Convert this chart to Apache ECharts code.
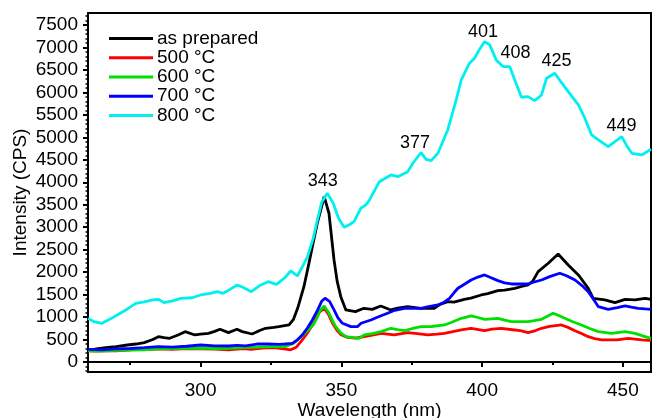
<!DOCTYPE html>
<html>
<head>
<meta charset="utf-8">
<script src="https://cdn.jsdelivr.net/npm/echarts@6/dist/echarts.min.js"></script>
<style>
html,body{margin:0;padding:0;background:#fff;}
#chart{width:653px;height:418px;}
</style>
</head>
<body>
<div id="chart"></div>
<script>
// ---- data (wavelength nm, intensity CPS) ----
var seriesNames = ['as prepared', '500 °C', '600 °C', '700 °C', '800 °C'];

var asPrepared = [[260,260],[263,290],[267,327],[270,340],[274,378],[277,400],[280,430],[283,500],[285,564],[287,540],[289,527],[292,600],[294.5,675],[298,601],[300,620],[302.8,638],[305,680],[306.9,727],[309.9,653],[312.9,727],[314.8,675],[318.3,623],[321,700],[323.1,750],[326,770],[327.8,786],[331.4,824],[333,950],[334.5,1200],[336.7,1676],[338.5,2200],[339.7,2567],[341.5,3100],[342.7,3384],[343.9,3680],[345.6,3310],[347.4,2270],[348.5,1800],[349.8,1454],[351.6,1158],[355,1120],[358,1195],[361,1170],[364,1247],[367.6,1158],[370,1200],[373.6,1231],[378.3,1195],[383,1195],[385,1280],[387.8,1343],[390,1330],[393.7,1395],[396,1420],[399.7,1491],[402,1520],[405.6,1587],[408,1600],[411.6,1640],[414,1680],[416.3,1714],[418,1800],[419.9,2010],[423.5,2197],[427,2404],[430.6,2159],[434.2,1937],[437.7,1640],[439.5,1418],[441.5,1400],[443.6,1380],[447.2,1320],[450.8,1395],[454.3,1380],[457.9,1418],[460,1395]];

var t500 = [[260,250],[263,240],[267,255],[270,250],[275,270],[278,300],[282,280],[285,290],[290,280],[295,300],[300,290],[305,285],[310,270],[315,300],[318,280],[322,310],[326,320],[329,300],[332,270],[334,330],[336,480],[338,650],[340,850],[342,1100],[343.9,1195],[345.5,1050],[347,850],[348.5,700],[350,600],[352.2,549],[355,530],[358.1,564],[361,600],[364.1,638],[368.8,601],[373.6,653],[377,630],[380.7,601],[384,620],[386.6,638],[390,680],[392.6,712],[396.1,750],[400.9,697],[403.5,730],[406.8,750],[411.6,712],[414,690],[416.3,653],[419,700],[421.1,750],[424,790],[428.2,824],[430.5,770],[433,697],[435.5,630],[437.7,564],[440,520],[442.5,490],[447.8,490],[452,527],[456.7,490],[460,475]];

var t600 = [[260,250],[265,240],[270,260],[275,267],[280,270],[285,290],[290,300],[295,304],[300,310],[305,300],[310,304],[315,320],[320,330],[325,341],[330,341],[333,415],[335.5,550],[338,700],[340,824],[341.5,1000],[342.5,1150],[343.9,1247],[345.5,1100],[347,900],[348,786],[349.8,650],[351.6,564],[356.3,527],[358.1,601],[361,630],[364.1,675],[367.6,750],[370,720],[372.4,697],[375,740],[378.3,786],[382,790],[386.6,824],[389,880],[392.6,972],[396.1,1024],[398.5,990],[400.9,950],[405.6,972],[408,930],[410.4,898],[416.3,898],[418.5,920],[421.1,950],[423,1010],[425.2,1084],[427,1040],[429.4,972],[432,900],[435.3,824],[438,750],[441.3,675],[446,638],[450.8,675],[454.3,638],[457.9,564],[460,527]];

var t700 = [[260,280],[265,270],[270,290],[275,300],[280,320],[285,341],[290,330],[295,350],[300,378],[305,360],[310,356],[313,370],[316,360],[320,400],[324,400],[328,393],[330,400],[332.6,415],[334.5,500],[336.1,601],[338,760],[339.7,935],[341.5,1150],[343,1350],[344.2,1418],[345.8,1350],[347.4,1158],[348.8,980],[350.4,861],[353.4,786],[355.7,786],[357,861],[360.5,935],[363,1000],[366.4,1084],[369,1150],[372.4,1195],[378.3,1195],[381,1230],[384.3,1269],[386.5,1330],[388.4,1418],[390,1540],[391.4,1640],[394,1740],[396.1,1825],[398.5,1890],[400.9,1937],[403,1880],[405.6,1810],[408,1760],[410.4,1736],[416.3,1736],[418.5,1780],[421.1,1825],[424,1900],[427.6,1974],[430,1920],[433,1825],[435.5,1700],[437.7,1565],[439.5,1400],[441.3,1231],[444.8,1173],[448,1210],[450.8,1247],[453,1220],[455.5,1195],[458,1180],[460,1173]];

var t800 = [[260,970],[262,900],[265,860],[268,960],[271,1068],[274,1180],[277,1306],[280,1340],[283,1380],[285,1395],[287,1320],[290,1360],[293,1417],[297,1430],[300,1491],[303,1520],[306,1565],[308,1528],[310,1600],[313,1714],[315,1662],[318,1565],[321,1700],[324,1788],[327,1729],[330,1880],[332,2026],[334.4,1914],[336,2100],[338,2344],[340,2750],[341.5,3161],[343,3550],[345,3755],[347,3550],[349,3200],[351,2998],[353,3060],[354.5,3123],[356.9,3421],[358.7,3495],[360,3606],[363.5,4013],[367.6,4163],[370,4125],[373.6,4236],[375.4,4423],[378.3,4659],[380.1,4511],[381.9,4481],[384.3,4645],[387.8,5164],[390.8,5832],[392.6,6277],[395.5,6649],[397.3,6760],[399,6950],[400.9,7131],[402.7,7057],[405,6723],[407.4,6574],[409.8,6574],[411.6,6277],[414,5892],[416.3,5906],[418.7,5817],[421.1,5943],[422.9,6315],[425.8,6426],[428.2,6218],[430.6,6017],[434.2,5721],[436.5,5425],[438.9,5053],[441.3,4942],[444.8,4793],[447.2,4904],[449.6,5015],[451.5,4800],[453.2,4645],[456.7,4608],[460,4734]];

// peak annotations: text, position (nm, CPS)
var peakText = ['343', '377', '401', '408', '425', '449'];
var peakNm   = [343.4, 376.2, 400.3, 411.9, 426.4, 449.5];
var peakCps  = [4029, 4882, 7353, 6872, 6707, 5253];

// tick labels
var xTicks = [300, 350, 400, 450];
var xMinorTicks = [275, 325, 375, 425];
var yTicks = [0, 500, 1000, 1500, 2000, 2500, 3000, 3500, 4000, 4500, 5000, 5500, 6000, 6500, 7000, 7500];
var yMinorTicks = [];
for (var v = -200; v <= 7700; v += 100) { if (v % 500 !== 0) yMinorTicks.push(v); }

var colors = ['#000000', '#ff0000', '#00e000', '#0000ff', '#00f0f0'];
var allData = [asPrepared, t500, t600, t700, t800];

var FONT = 'Liberation Sans, Arial, Helvetica, sans-serif';

var chart = echarts.init(document.getElementById('chart'), null, {renderer: 'canvas'});

var series = allData.map(function (d, i) {
  var s = {
    name: seriesNames[i],
    type: 'line',
    data: d,
    showSymbol: false,
    symbol: 'none',
    smooth: false,
    xAxisIndex: 0,
    yAxisIndex: 0,
    lineStyle: {color: colors[i], width: 2.8},
    itemStyle: {color: colors[i]},
    animation: false,
    z: 2 + i
  };
  if (i === 4) {
    s.markPoint = {
      symbol: 'circle',
      symbolSize: 0,
      silent: true,
      animation: false,
      label: {show: true, position: 'inside', color: '#000', fontSize: 18, fontFamily: FONT, formatter: function (p) { return p.name; }},
      data: peakText.map(function (t, k) { return {name: t, coord: [peakNm[k], peakCps[k]]}; })
    };
  }
  return s;
});

function plain(v) { return String(v); }

chart.setOption({
  animation: false,
  backgroundColor: '#fff',
  textStyle: {fontFamily: FONT},
  grid: {left: 88, right: 2, top: 13, bottom: 46, show: true, borderColor: '#000', borderWidth: 2, backgroundColor: 'transparent', containLabel: false, outerBoundsMode: 'none'},
  legend: {
    orient: 'vertical',
    left: 104,
    top: 24,
    itemGap: 0,
    itemWidth: 44,
    itemHeight: 3,
    icon: 'rect',
    data: seriesNames,
    textStyle: {fontSize: 19, color: '#000', fontFamily: FONT, lineHeight: 19.2, padding: [0, 0, 0, -1]}
  },
  xAxis: [{
    type: 'value', min: 260, max: 460,
    name: 'Wavelength (nm)', nameLocation: 'middle', nameGap: 29, nameMoveOverlap: false,
    nameTextStyle: {fontSize: 19, color: '#000', fontFamily: FONT},
    axisLine: {show: true, lineStyle: {color: '#000', width: 2}},
    axisTick: {show: true, inside: false, length: 5, lineStyle: {color: '#000', width: 2}, customValues: xTicks},
    axisLabel: {show: true, color: '#000', fontSize: 19, fontFamily: FONT, margin: 9, customValues: xTicks, formatter: plain},
    splitLine: {show: false}
  }, {
    type: 'value', min: 260, max: 460, position: 'bottom', gridIndex: 0,
    axisLine: {show: false},
    axisTick: {show: true, inside: false, length: 3, lineStyle: {color: '#000', width: 2}, customValues: xMinorTicks},
    axisLabel: {show: false},
    splitLine: {show: false}
  }],
  yAxis: [{
    type: 'value', min: -223, max: 7767,
    name: 'Intensity (CPS)', nameLocation: 'middle', nameGap: 58, nameRotate: 90, nameMoveOverlap: false,
    nameTextStyle: {fontSize: 19, color: '#000', fontFamily: FONT},
    axisLine: {show: true, lineStyle: {color: '#000', width: 2}},
    axisTick: {show: true, inside: false, length: 5, lineStyle: {color: '#000', width: 2}, customValues: yTicks},
    axisLabel: {show: true, color: '#000', fontSize: 19, fontFamily: FONT, margin: 10, customValues: yTicks, formatter: plain},
    splitLine: {show: false}
  }, {
    type: 'value', min: -223, max: 7767, position: 'left',
    axisLine: {show: false},
    axisTick: {show: true, inside: false, length: 2.5, lineStyle: {color: '#000', width: 1.5}, customValues: yMinorTicks},
    axisLabel: {show: false},
    splitLine: {show: false}
  }],
  series: series
});
</script>
</body>
</html>
